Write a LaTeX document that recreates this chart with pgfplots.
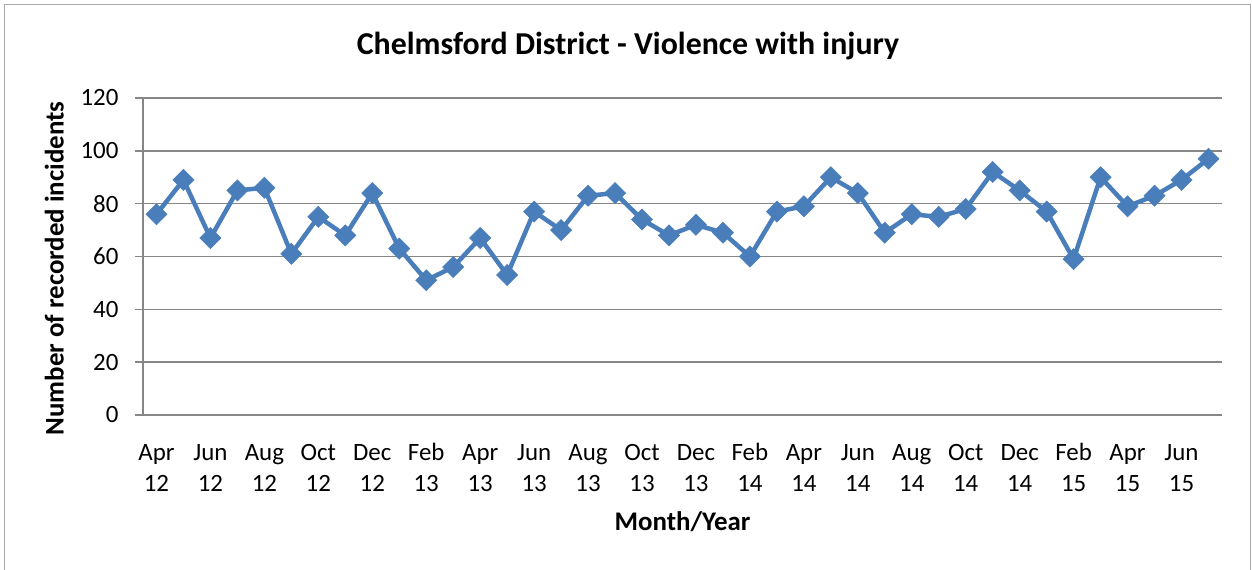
\documentclass[border=0pt]{standalone}
\usepackage{pgfplots}
\pgfplotsset{compat=1.18}
\usepackage{fontspec}
\setmainfont{Carlito}
\definecolor{serieblue}{RGB}{74,126,187}
\definecolor{gridgray}{RGB}{134,134,134}
\begin{document}
\begin{tikzpicture}[x=1bp,y=1bp]
\useasboundingbox (0,0) rectangle (1252,570);
\draw[gridgray!70, line width=1.5bp] (4.5,-20) -- (4.5,565.5) -- (1250.5,565.5) -- (1250.5,-20);
\node[font=\fontsize{32}{38}\selectfont\bfseries] at (628,524) {Chelmsford District - Violence with injury};
\begin{axis}[
  at={(143bp,155bp)}, anchor=south west,
  scale only axis, width=1079bp, height=317bp,
  xmin=-0.5, xmax=39.5, ymin=0, ymax=120,
  ytick={0,20,...,120},
  xtick={0,2,...,38},
  xticklabels={\strut Apr\\\strut 12,\strut Jun\\\strut 12,\strut Aug\\\strut 12,\strut Oct\\\strut 12,\strut Dec\\\strut 12,\strut Feb\\\strut 13,\strut Apr\\\strut 13,\strut Jun\\\strut 13,\strut Aug\\\strut 13,\strut Oct\\\strut 13,\strut Dec\\\strut 13,\strut Feb\\\strut 14,\strut Apr\\\strut 14,\strut Jun\\\strut 14,\strut Aug\\\strut 14,\strut Oct\\\strut 14,\strut Dec\\\strut 14,\strut Feb\\\strut 15,\strut Apr\\\strut 15,\strut Jun\\\strut 15},
  x tick label style={align=center, font=\fontsize{25}{31}\selectfont, yshift=-12bp},
  y tick label style={font=\fontsize{25}{30}\selectfont, xshift=-13bp},
  /pgf/number format/assume math mode=true,
  ymajorgrids, grid style={gridgray, line width=1.5bp},
  axis x line*=bottom, axis y line*=left,
  axis line style={gridgray, line width=1.5bp},
  x axis line style={-}, y axis line style={-},
  major tick length=8bp,
  ytick style={gridgray, line width=1.5bp},
  xtick style={draw=none},
  tick align=outside,
  xlabel={Month/Year}, ylabel={Number of recorded incidents},
  xlabel style={font=\fontsize{27}{32}\selectfont\bfseries, yshift=-5bp},
  ylabel style={font=\fontsize{27}{32}\selectfont\bfseries, yshift=10bp, xshift=-12bp},
  clip=false,
]
\addplot[serieblue, line width=4.5bp, mark=square*, mark size=7.5bp, mark options={rotate=45, solid, fill=serieblue, draw=serieblue, line width=0.5bp}] coordinates {
(0,76) (1,89) (2,67) (3,85) (4,86) (5,61) (6,75) (7,68) (8,84) (9,63)
(10,51) (11,56) (12,67) (13,53) (14,77) (15,70) (16,83) (17,84) (18,74) (19,68)
(20,72) (21,69) (22,60) (23,77) (24,79) (25,90) (26,84) (27,69) (28,76) (29,75)
(30,78) (31,92) (32,85) (33,77) (34,59) (35,90) (36,79) (37,83) (38,89) (39,97)
};
\end{axis}
\end{tikzpicture}
\end{document}
